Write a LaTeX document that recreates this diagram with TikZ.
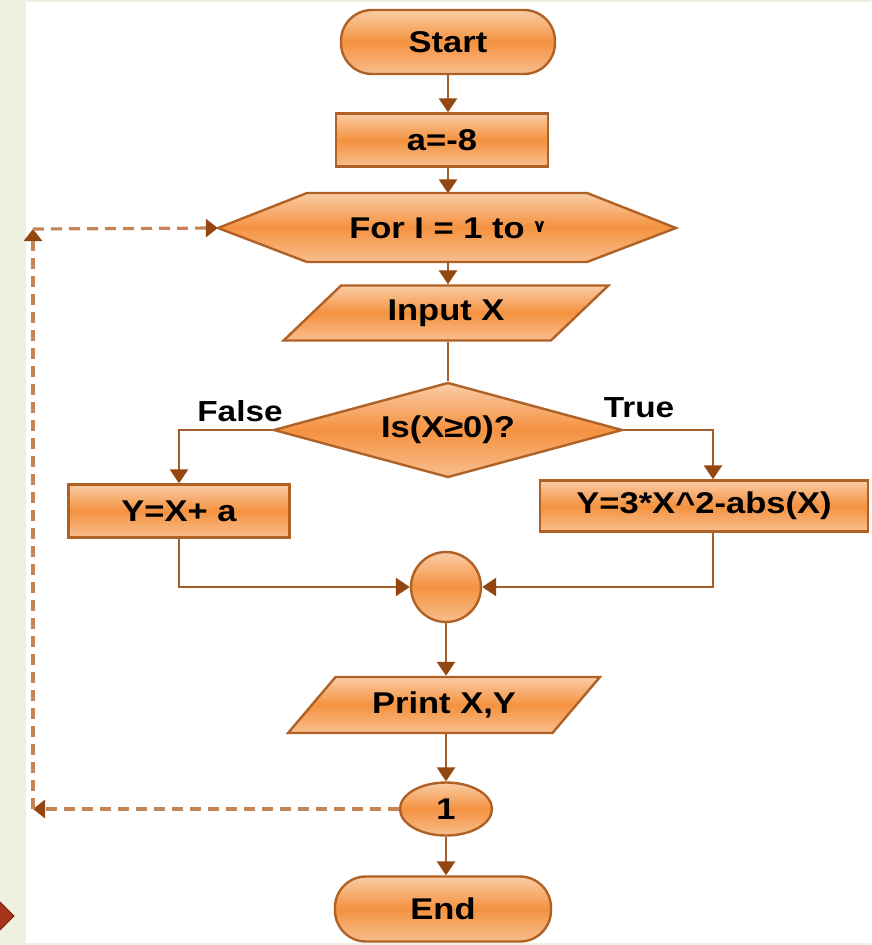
\documentclass[tikz,border=0pt]{standalone}
\usepackage{fontspec}
\setmainfont{Liberation Sans}[FakeStretch=1.15]
\newfontfamily\arabicdigits[Script=Arabic]{DejaVu Sans}
\usetikzlibrary{arrows.meta,shapes.geometric}

\definecolor{edge}{RGB}{176,98,38}
\definecolor{wire}{RGB}{166,94,42}
\definecolor{tipc}{RGB}{148,70,16}
\definecolor{dashc}{RGB}{196,132,86}
\definecolor{peach}{RGB}{250,204,166}
\definecolor{orng}{RGB}{244,146,64}
\definecolor{peachlow}{RGB}{249,190,142}
\definecolor{strip}{RGB}{238,241,224}
\definecolor{marker}{RGB}{168,52,26}
\definecolor{markeredge}{RGB}{120,32,14}

\begin{document}
\begin{tikzpicture}[x=1pt,y=-1pt,
  every node/.style={font=\fontsize{30}{34}\selectfont\bfseries, text=black},
  shapefill/.style={draw=edge, line width=2.4pt,
    top color=peach, bottom color=peachlow, middle color=orng},
  terminal/.style={shapefill, rectangle, rounded corners=31pt, inner sep=0pt},
  process/.style={shapefill, rectangle, inner sep=0pt},
  iobox/.style={shapefill, trapezium, trapezium left angle=40,
    trapezium right angle=140, trapezium stretches=true, inner sep=0pt},
  decision/.style={shapefill, diamond, aspect=3.65, inner sep=0pt},
  joint/.style={shapefill, circle, inner sep=0pt, minimum size=70pt},
  counter/.style={shapefill, ellipse, inner sep=0pt},
  plainbox/.style={rectangle, inner sep=0pt},
  tag/.style={font=\fontsize{29}{33}\selectfont\bfseries},
  flow/.style={draw=wire, line width=2.8pt,
    -{Triangle[width=18pt,length=14pt,color=tipc]}},
  wireline/.style={draw=wire, line width=2.8pt},
  loopback/.style={draw=dashc, line width=3.2pt, dash pattern=on 11pt off 7pt,
    -{Triangle[width=18pt,length=12pt,color=tipc]}}
]
% page background, side strip and thin frame lines
\useasboundingbox (0,0) rectangle (871,945);
\fill[white] (0,0) rectangle (871,945);
\fill[strip] (0,0) rectangle (26,945);
\fill[strip] (0,0) rectangle (871,2);
\fill[strip] (0,943) rectangle (871,945);
\filldraw[fill=marker, draw=markeredge, line width=1pt]
  (-14,916) -- (0,902) -- (14,916) -- (0,930) -- cycle;

% hexagonal loop header
\filldraw[shapefill] (218,228) -- (307,193) -- (587,193) -- (676,228)
  -- (587,262) -- (307,262) -- cycle;

% nodes
\node[terminal, minimum width=214pt, minimum height=64pt] (start) at (448,42) {Start};
\node[process, minimum width=212pt, minimum height=53pt] (init) at (442,140) {a=-8};
\node[plainbox, minimum width=458pt, minimum height=69pt] (for) at (447,228)
  {For I = 1 to {\arabicdigits\fontsize{17}{17}\selectfont\raisebox{6pt}{٧}}};
\node[iobox, minimum width=325pt, minimum height=55pt] (input) at (446,313) {Input X};
\node[decision, minimum width=349pt, minimum height=95pt] (test) at (448,430) {Is(X≥0)?};
\node[tag] (false) at (240,411) {False};
\node[tag] (true) at (639,408) {True};
\node[process, minimum width=221pt, minimum height=53pt] (neg) at (179,511) {Y=X+ a};
\node[process, minimum width=328pt, minimum height=51pt] (pos) at (704,506) {Y=3*X\^{}2-abs(X)};
\node[joint] (merge) at (446,587) {};
\node[iobox, minimum width=312pt, minimum height=56pt] (print) at (444,705) {Print X,Y};
\node[counter, minimum width=92pt, minimum height=53pt] (next) at (446,809) {1};
\node[terminal, minimum width=216pt, minimum height=65pt] (stop) at (443,909) {End};

% helper points: the vertical flow axis, the right branch and the loop-back path
\coordinate (axis) at (448,0);
\coordinate (lowaxis) at (446,0);
\coordinate (rx) at (713,430);
\coordinate (lc) at (33,809);
\coordinate (tc) at (33,229);

% straight flow
\draw[flow] (start.south -| axis) -- (init.north -| axis);
\draw[flow] (init.south -| axis) -- (for.north -| axis);
\draw[flow] (for.south -| axis) -- (input.north -| axis);
\draw[wireline] (input.south -| axis) -- (test.north);
\draw[flow] (merge.south) -- (print.north -| lowaxis);
\draw[flow] (print.south -| lowaxis) -- (next.north);
\draw[flow] (next.south) -- (stop.north -| lowaxis);

% branches
\draw[flow] (test.west) -| (neg.north);
\draw[flow] (test.east) -- (test.east -| rx) -- (rx |- pos.north);
\draw[flow] (neg.south) |- (merge.west);
\draw[flow] (rx |- pos.south) |- (merge.east);

% loop back to the header
\draw[loopback] (next.west) -- (lc);
\draw[loopback] (lc) -- (tc);
\draw[loopback] (tc) -- (for.west);
\end{tikzpicture}
\end{document}
